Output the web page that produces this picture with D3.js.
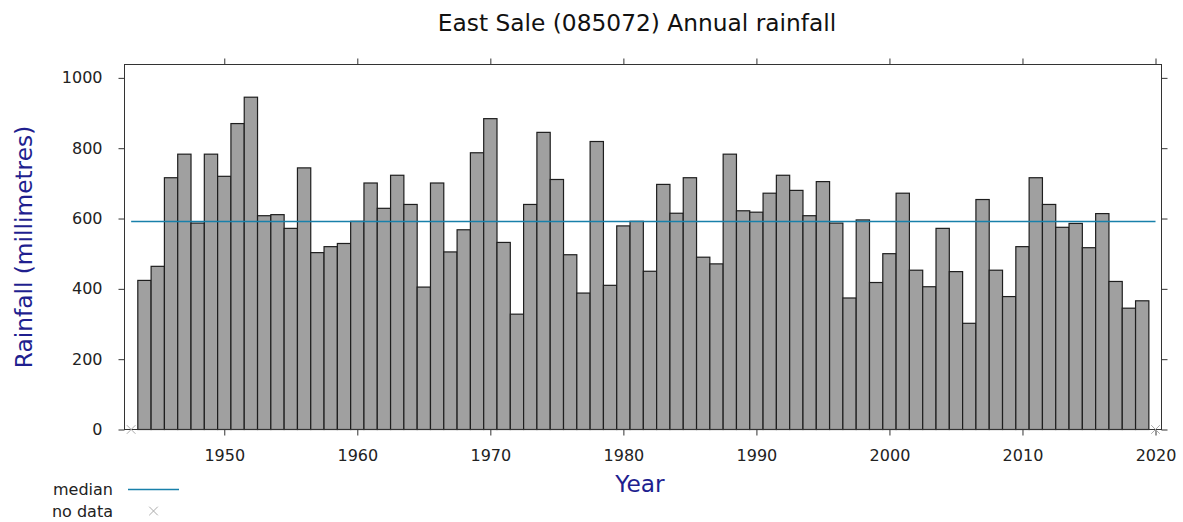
<!DOCTYPE html>
<html>
<head>
<meta charset="utf-8">
<script src="https://cdn.jsdelivr.net/npm/d3@7"></script>
<style>
  body { margin: 0; background: #fff; }
  svg { font-family: "DejaVu Sans", Verdana, sans-serif; }
</style>
</head>
<body>
<div id="chart"></div>
<script>
// Annual rainfall (mm), East Sale 085072
const years = [1944, 1945, 1946, 1947, 1948, 1949, 1950, 1951, 1952, 1953,
  1954, 1955, 1956, 1957, 1958, 1959, 1960, 1961, 1962, 1963,
  1964, 1965, 1966, 1967, 1968, 1969, 1970, 1971, 1972, 1973,
  1974, 1975, 1976, 1977, 1978, 1979, 1980, 1981, 1982, 1983,
  1984, 1985, 1986, 1987, 1988, 1989, 1990, 1991, 1992, 1993,
  1994, 1995, 1996, 1997, 1998, 1999, 2000, 2001, 2002, 2003,
  2004, 2005, 2006, 2007, 2008, 2009, 2010, 2011, 2012, 2013,
  2014, 2015, 2016, 2017, 2018, 2019];
const rainfall = [424, 464, 716, 783, 587, 783, 720, 870, 945, 608,
  611, 572, 744, 503, 520, 529, 592, 701, 629, 723,
  640, 405, 701, 505, 568, 787, 884, 532, 328, 640,
  845, 711, 497, 388, 819, 410, 579, 592, 450, 697,
  615, 716, 490, 471, 783, 622, 618, 672, 723, 680,
  608, 705, 587, 374, 596, 418, 500, 672, 453, 406,
  572, 449, 302, 654, 453, 378, 520, 716, 640, 575,
  586, 517, 614, 421, 345, 366];
const noDataYears = [1943, 2020];
const median = 593;
const yTicks = [0, 200, 400, 600, 800, 1000];
const xTicks = [1950, 1960, 1970, 1980, 1990, 2000, 2010, 2020];

const W = 1183, H = 522;
const plotL = 124.5, plotR = 1161.5, plotT = 64.5, plotB = 429.5;
const font = '"DejaVu Sans", Verdana, sans-serif';
const medianColor = '#1880aa';

const svg = d3.select('#chart').append('svg')
  .attr('width', W)
  .attr('height', H);

const x = d3.scaleLinear().domain([1942.5, 2020.45]).range([plotL, plotR]);
const y = d3.scaleLinear().domain([0, 1038]).range([plotB, plotT]);

// Bars
svg.append('g')
  .selectAll('rect')
  .data(years)
  .join('rect')
  .attr('x', d => x(d - 0.5))
  .attr('width', d => x(d + 0.5) - x(d - 0.5))
  .attr('y', (d, i) => y(rainfall[i]))
  .attr('height', (d, i) => y(0) - y(rainfall[i]))
  .attr('fill', '#a0a0a0')
  .attr('stroke', '#1e1e1e')
  .attr('stroke-width', 1.2);

// Median line (snapped to pixel grid)
const yMed = Math.round(y(median)) + 0.5;
svg.append('line')
  .attr('x1', x(noDataYears[0]))
  .attr('x2', x(noDataYears[1]))
  .attr('y1', yMed)
  .attr('y2', yMed)
  .attr('stroke', medianColor)
  .attr('stroke-width', 1.4);

// Axes
const yAxisL = d3.axisLeft(y).tickValues(yTicks).tickSize(6).tickPadding(16).tickFormat(d3.format('d'));
const yAxisR = d3.axisRight(y).tickValues(yTicks).tickSize(6).tickFormat('');
const xAxisB = d3.axisBottom(x).tickValues(xTicks).tickSize(6).tickPadding(14).tickFormat(d3.format('d'));
const xAxisT = d3.axisTop(x).tickValues(xTicks).tickSize(6).tickFormat('');

[
  [yAxisL, `translate(${plotL},0)`],
  [yAxisR, `translate(${plotR},0)`],
  [xAxisB, `translate(0,${plotB})`],
  [xAxisT, `translate(0,${plotT})`]
].forEach(([axis, tr]) => {
  const g = svg.append('g').attr('transform', tr).call(axis);
  g.attr('font-family', font).attr('font-size', 16);
  g.select('.domain').remove();
  g.selectAll('.tick line').attr('stroke', '#333');
  g.selectAll('.tick text').attr('fill', '#222');
});

// Frame
svg.append('rect')
  .attr('x', plotL).attr('y', plotT)
  .attr('width', plotR - plotL).attr('height', plotB - plotT)
  .attr('fill', 'none')
  .attr('stroke', '#333');

// No data markers
const cross = d3.symbol().type(d3.symbolX).size(50);
svg.append('g')
  .selectAll('path')
  .data(noDataYears)
  .join('path')
  .attr('d', cross)
  .attr('transform', d => `translate(${x(d)},${y(0)})`)
  .attr('fill', 'none')
  .attr('stroke', '#aaa')
  .attr('stroke-width', 1);

// Titles
svg.append('text')
  .attr('x', 637).attr('y', 31)
  .attr('text-anchor', 'middle')
  .attr('font-size', 23.3)
  .attr('fill', '#111')
  .text('East Sale (085072) Annual rainfall');

svg.append('text')
  .attr('x', 640).attr('y', 492)
  .attr('text-anchor', 'middle')
  .attr('font-size', 23.3)
  .attr('fill', '#1f1f8f')
  .text('Year');

svg.append('text')
  .attr('transform', 'translate(32,247) rotate(-90)')
  .attr('text-anchor', 'middle')
  .attr('font-size', 23.3)
  .attr('fill', '#1f1f8f')
  .text('Rainfall (millimetres)');

// Legend
const legend = svg.append('g').attr('font-size', 16).attr('fill', '#222');
legend.append('text').attr('x', 113).attr('y', 495).attr('text-anchor', 'end').text('median');
legend.append('line')
  .attr('x1', 128).attr('x2', 179).attr('y1', 489.5).attr('y2', 489.5)
  .attr('stroke', medianColor).attr('stroke-width', 1.4);
legend.append('text').attr('x', 113).attr('y', 517).attr('text-anchor', 'end').text('no data');
legend.append('path')
  .attr('d', cross)
  .attr('transform', 'translate(153.5,511)')
  .attr('fill', 'none')
  .attr('stroke', '#aaa')
  .attr('stroke-width', 1);
</script>
</body>
</html>
